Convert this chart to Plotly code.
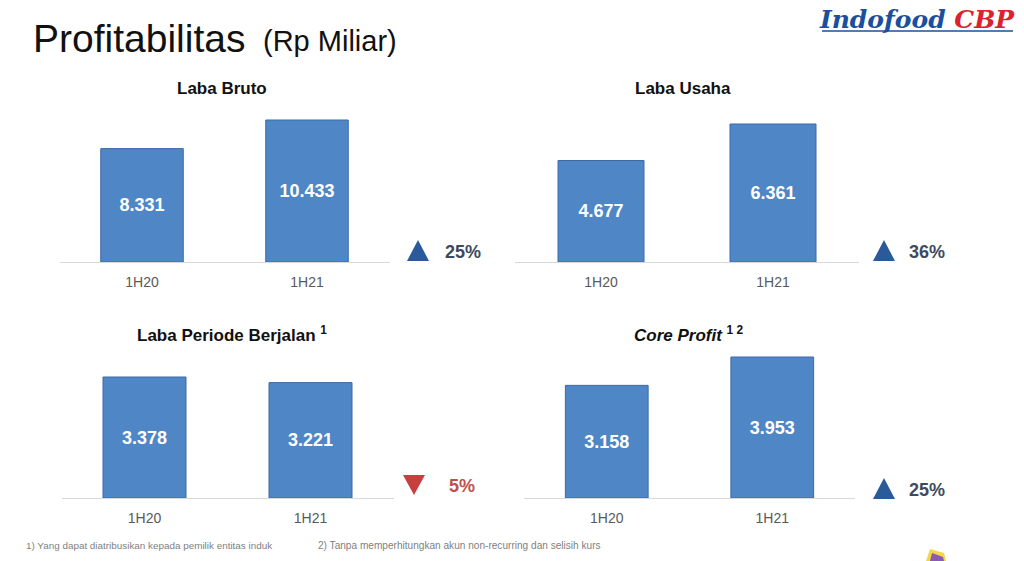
import plotly.graph_objects as go

W, H = 1024, 561

# ---------------- data ----------------
periods = ["1H20", "1H21"]
panel_titles = [
    "<b>Laba Bruto</b>",
    "<b>Laba Usaha</b>",
    "<b>Laba Periode Berjalan <sup>1</sup></b>",
    "<b><i>Core Profit</i> <sup>1 2</sup></b>",
]
laba_bruto = [8331, 10433]
laba_usaha = [4677, 6361]
laba_periode = [3378, 3221]
core_profit = [3158, 3953]
series = [laba_bruto, laba_usaha, laba_periode, core_profit]

main_title = "Profitabilitas"
main_sub = "(Rp Miliar)"
footnote1 = "1) Yang dapat diatribusikan kepada pemilik entitas induk"
footnote2 = "2) Tanpa memperhitungkan akun non-recurring dan selisih kurs"

# ---------------- layout constants (pixels) ----------------
panels = [
    dict(x0=59.5, x1=389.5, base=262, top=100, maxpx=142, tx=222, ty=88, tri_x=407, pct_x=443, pct_y=252),
    dict(x0=515, x1=859, base=262, top=100, maxpx=138, tx=683, ty=88, tri_x=873, pct_x=907, pct_y=252),
    dict(x0=61.5, x1=393.5, base=498, top=340, maxpx=121, tx=232, ty=334, tri_x=403, pct_x=447, pct_y=486),
    dict(x0=524, x1=855, base=498, top=340, maxpx=141, tx=688, ty=334, tri_x=873, pct_x=907, pct_y=490),
]

def fx(px):
    return px / W

def fy(py):
    return 1 - py / H

BAR = "#4F86C6"
BAR_EDGE = "#3B6AA6"
UP = "#2A5A9A"
DOWN = "#C8403E"
PCT_UP = "#3E4A60"
PCT_DOWN = "#C0504D"

fig = go.Figure()
annotations = []
shapes = []
layout_axes = {}

for i, (vals, p, title) in enumerate(zip(series, panels, panel_titles)):
    n = i + 1
    xa = "x" if n == 1 else f"x{n}"
    ya = "y" if n == 1 else f"y{n}"
    fig.add_trace(go.Bar(
        x=periods, y=vals, xaxis=xa, yaxis=ya,
        width=0.5,
        marker=dict(color=BAR, line=dict(color=BAR_EDGE, width=1)),
        texttemplate="<b>%{y:,.0f}</b>",
        textposition="inside", insidetextanchor="middle",
        textfont=dict(color="white", size=18, family="Liberation Sans"),
        constraintext="none", textangle=0,
        hoverinfo="skip", showlegend=False,
    ))
    dom_h = p["base"] - p["top"]
    ymax = max(vals) * dom_h / p["maxpx"]
    xkey = "xaxis" if n == 1 else f"xaxis{n}"
    ykey = "yaxis" if n == 1 else f"yaxis{n}"
    layout_axes[xkey] = dict(
        domain=[fx(p["x0"]), fx(p["x1"])], anchor=ya, type="category",
        range=[-0.5, 1.5], showline=True, linecolor="#D9D9D9", linewidth=1,
        showgrid=False, zeroline=False, ticks="", ticklabelstandoff=7,
        tickfont=dict(size=14, color="#595959", family="Liberation Sans"),
        fixedrange=True,
    )
    layout_axes[ykey] = dict(
        domain=[fy(p["base"]), fy(p["top"])], anchor=xa, range=[0, ymax],
        visible=False, fixedrange=True,
    )
    annotations.append(dict(
        x=fx(p["tx"]), y=fy(p["ty"]), xref="paper", yref="paper",
        text=title, showarrow=False, xanchor="center", yanchor="middle",
        font=dict(size=17, color="#111111", family="Liberation Sans"),
    ))
    change = vals[1] / vals[0] - 1
    up = change >= 0
    tx0 = p["tri_x"]
    tw = 22
    if up:
        yb = p["pct_y"] + 9
        yt = p["pct_y"] - 12
        path = f"M {fx(tx0)},{fy(yb)} L {fx(tx0 + tw)},{fy(yb)} L {fx(tx0 + tw / 2)},{fy(yt)} Z"
        col = UP
    else:
        yt = p["pct_y"] - 11
        yb = p["pct_y"] + 9
        path = f"M {fx(tx0)},{fy(yt)} L {fx(tx0 + tw)},{fy(yt)} L {fx(tx0 + tw / 2)},{fy(yb)} Z"
        col = DOWN
    shapes.append(dict(type="path", xref="paper", yref="paper", path=path,
                       fillcolor=col, line=dict(width=0)))
    annotations.append(dict(
        x=fx(p["pct_x"]), y=fy(p["pct_y"]), xref="paper", yref="paper",
        text=f"<b>{abs(change) * 100:.0f}%</b>", showarrow=False,
        xanchor="left", yanchor="middle",
        font=dict(size=18, color=PCT_UP if up else PCT_DOWN, family="Liberation Sans"),
    ))

# main title
annotations.append(dict(
    x=fx(31), y=fy(38), xref="paper", yref="paper", xanchor="left", yanchor="middle",
    text=main_title, showarrow=False,
    font=dict(size=39, color="#111111", family="Liberation Sans"),
))
annotations.append(dict(
    x=fx(261), y=fy(41), xref="paper", yref="paper", xanchor="left", yanchor="middle",
    text=main_sub, showarrow=False,
    font=dict(size=29, color="#111111", family="Liberation Sans"),
))
# logo
annotations.append(dict(
    x=fx(1017), y=fy(20), xref="paper", yref="paper", xanchor="right", yanchor="middle",
    text="<b><i><span style='color:#1B4F9E'>Indofood</span> <span style='color:#D9232D'>CBP</span></i></b>",
    showarrow=False, font=dict(size=25, family="DejaVu Serif"),
))
shapes.append(dict(type="line", xref="paper", yref="paper",
                   x0=fx(822), x1=fx(1013), y0=fy(31), y1=fy(31),
                   line=dict(color="#1B4F9E", width=1.5)))
# footnotes
annotations.append(dict(
    x=fx(24), y=fy(545), xref="paper", yref="paper", xanchor="left", yanchor="middle",
    text=footnote1, showarrow=False, font=dict(size=9.9, color="#7F7F7F", family="Liberation Sans"),
))
annotations.append(dict(
    x=fx(316), y=fy(545), xref="paper", yref="paper", xanchor="left", yanchor="middle",
    text=footnote2, showarrow=False, font=dict(size=10.1, color="#7F7F7F", family="Liberation Sans"),
))
# small decorative fragment bottom-right
shapes.append(dict(type="path", xref="paper", yref="paper",
                   path=f"M {fx(926)},{fy(561)} L {fx(930)},{fy(549)} L {fx(944)},{fy(553)} L {fx(946)},{fy(561)} Z",
                   fillcolor="#F3D64A", line=dict(width=0)))
shapes.append(dict(type="path", xref="paper", yref="paper",
                   path=f"M {fx(930)},{fy(561)} L {fx(932)},{fy(553)} L {fx(943)},{fy(557)} L {fx(944)},{fy(561)} Z",
                   fillcolor="#8A5BB0", line=dict(width=0)))

fig.update_layout(
    width=W, height=H, margin=dict(l=0, r=0, t=0, b=0),
    paper_bgcolor="white", plot_bgcolor="rgba(0,0,0,0)",
    separators=",.", bargap=0.5,
    annotations=annotations, shapes=shapes,
    **layout_axes,
)

fig.write_html("out.html", config={"displayModeBar": False})
